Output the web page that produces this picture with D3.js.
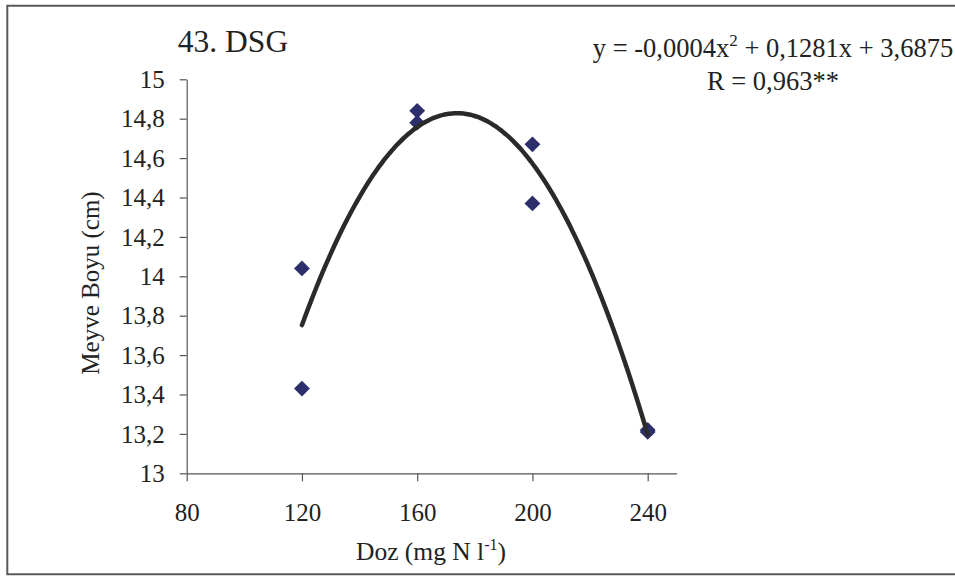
<!DOCTYPE html>
<html>
<head>
<meta charset="utf-8">
<script src="https://cdn.jsdelivr.net/npm/d3@7"></script>
<style>
  html, body { margin: 0; padding: 0; background: #fff; }
  svg { display: block; font-family: "Liberation Serif", "Times New Roman", serif; }
</style>
</head>
<body>
<svg id="chart" width="955" height="576"></svg>
<script>
// Nitrogen dose (mg N l-1) and fruit length (cm), two replicates per dose
const doses   = [120, 120, 160, 160, 200, 200, 240, 240];
const lengths = [14.04, 13.43, 14.84, 14.78, 14.67, 14.37, 13.22, 13.21];

const xTicks = [80, 120, 160, 200, 240];
const yTicks = [13, 13.2, 13.4, 13.6, 13.8, 14, 14.2, 14.4, 14.6, 14.8, 15];

const titleText = "43. DSG";
const eqParts = ["y = -0,0004x", "2", " + 0,1281x + 3,6875"];
const rText = "R = 0,963**";

const svg = d3.select("#chart");

// Frame around the chart area (right side runs off the canvas)
svg.append("path")
  .attr("d", "M960,5.7 H7.3 V574.3 H960")
  .attr("fill", "none")
  .attr("stroke", "#5a5a5a")
  .attr("stroke-width", 2);

const x = d3.scaleLinear().domain([80, 250]).range([186.7, 676.5]);
const y = d3.scaleLinear().domain([13, 15]).range([473.3, 79.3]);

const comma = v => String(+v.toFixed(1)).replace(".", ",");

// Y axis
const yAxis = svg.append("g")
  .attr("transform", `translate(${x(80)},0)`)
  .call(d3.axisLeft(y).tickValues(yTicks).tickFormat(comma).tickSize(7).tickSizeOuter(0).tickPadding(15));
// X axis
const xAxis = svg.append("g")
  .attr("transform", `translate(0,${y(13)})`)
  .call(d3.axisBottom(x).tickValues(xTicks).tickFormat(d3.format("d")).tickSize(8).tickSizeOuter(0).tickPadding(25));

[yAxis, xAxis].forEach(g => {
  g.selectAll(".domain").attr("stroke", "#555").attr("stroke-width", 1.2);
  g.selectAll(".tick line").attr("stroke", "#555").attr("stroke-width", 1.2);
  g.selectAll(".tick text")
    .attr("fill", "#222")
    .attr("font-family", "Liberation Serif, serif")
    .attr("font-size", 25);
});
yAxis.selectAll(".tick text").attr("dy", "0.33em");
xAxis.selectAll(".tick text").attr("dy", "0.58em");

// Second-order polynomial trend fitted by least squares
function polyFit2(xs, ys) {
  const n = xs.length;
  let s = [0, 0, 0, 0, 0], t = [0, 0, 0];
  for (let i = 0; i < n; i++) {
    let p = 1;
    for (let k = 0; k < 5; k++) { s[k] += p; if (k < 3) t[k] += p * ys[i]; p *= xs[i]; }
  }
  const M = [[s[0], s[1], s[2], t[0]], [s[1], s[2], s[3], t[1]], [s[2], s[3], s[4], t[2]]];
  for (let c = 0; c < 3; c++) {
    for (let r = c + 1; r < 3; r++) {
      const f = M[r][c] / M[c][c];
      for (let k = c; k < 4; k++) M[r][k] -= f * M[c][k];
    }
  }
  const sol = [0, 0, 0];
  for (let r = 2; r >= 0; r--) {
    let v = M[r][3];
    for (let k = r + 1; k < 3; k++) v -= M[r][k] * sol[k];
    sol[r] = v / M[r][r];
  }
  return sol; // [a0, a1, a2]
}
const coef = polyFit2(doses, lengths);
const trend = v => coef[0] + coef[1] * v + coef[2] * v * v;
const xs = d3.range(d3.min(doses), d3.max(doses) + 0.5, 1);

// Observed values
svg.append("g")
  .selectAll("path")
  .data(doses.map((d, i) => [d, lengths[i]]))
  .join("path")
  .attr("transform", d => `translate(${x(d[0])},${y(d[1])})`)
  .attr("d", d3.symbol().type(d3.symbolDiamond2).size(160))
  .attr("fill", "#2d2f6c");

svg.append("path")
  .datum(xs)
  .attr("d", d3.line().x(v => x(v)).y(v => y(trend(v))).curve(d3.curveMonotoneX))
  .attr("fill", "none")
  .attr("stroke", "#2a2a2a")
  .attr("stroke-width", 4.5)
  .attr("stroke-linecap", "round");

// Title
svg.append("text")
  .attr("x", 233).attr("y", 51.7)
  .attr("text-anchor", "middle")
  .attr("font-size", 31.5)
  .attr("fill", "#222")
  .text(titleText);

// Regression equation
const eq = svg.append("text")
  .attr("x", 773).attr("y", 56.7)
  .attr("text-anchor", "middle")
  .attr("font-size", 26.5)
  .attr("fill", "#222");
eq.append("tspan").text(eqParts[0]);
eq.append("tspan").attr("font-size", 17).attr("dy", -11).text(eqParts[1]);
eq.append("tspan").attr("dy", 11).text(eqParts[2]);

svg.append("text")
  .attr("x", 773).attr("y", 90)
  .attr("text-anchor", "middle")
  .attr("font-size", 26.5)
  .attr("fill", "#222")
  .text(rText);

// Axis titles
svg.append("text")
  .attr("transform", "translate(99,283) rotate(-90)")
  .attr("text-anchor", "middle")
  .attr("font-size", 25)
  .attr("fill", "#222")
  .text("Meyve Boyu (cm)");

const xl = svg.append("text")
  .attr("x", 431).attr("y", 560)
  .attr("text-anchor", "middle")
  .attr("font-size", 25.5)
  .attr("fill", "#222");
xl.append("tspan").text("Doz (mg N l");
xl.append("tspan").attr("font-size", 16).attr("dy", -10).text("-1");
xl.append("tspan").attr("dy", 10).text(")");
</script>
</body>
</html>
